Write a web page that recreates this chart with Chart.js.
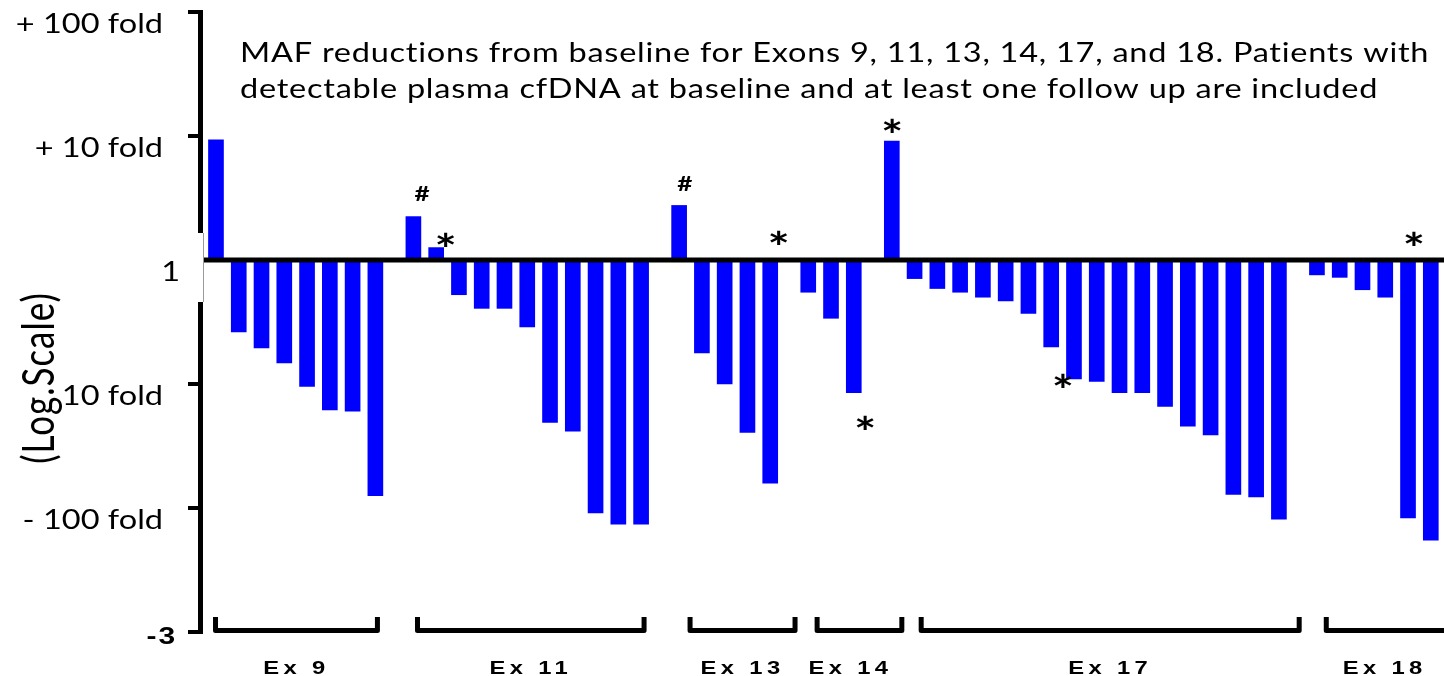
<!DOCTYPE html>
<html>
<head>
<meta charset="utf-8">
<script src="https://cdn.jsdelivr.net/npm/chart.js@4.4.1/dist/chart.umd.min.js"></script>
<style>
  html, body { margin: 0; padding: 0; background: #ffffff; overflow: hidden; }
  canvas { display: block; }
</style>
</head>
<body>
<canvas id="maf" width="1444" height="676"></canvas>
<script>
// Change in mutant allele fraction from baseline, log10 units (1 = 10-fold rise, -1 = 10-fold drop)
const exonNames = ['Ex 9', 'Ex 11', 'Ex 13', 'Ex 14', 'Ex 17', 'Ex 18'];
const ex9  = [0.97, -0.58, -0.71, -0.83, -1.02, -1.21, -1.22, -1.90];
const ex11 = [0.35, 0.10, -0.28, -0.39, -0.39, -0.54, -1.31, -1.38, -2.04, -2.13, -2.13];
const ex13 = [0.44, -0.75, -1.00, -1.39, -1.80];
const ex14 = [-0.26, -0.47, -1.07, 0.96];
const ex17 = [-0.15, -0.23, -0.26, -0.30, -0.33, -0.43, -0.70, -0.96, -0.98, -1.07, -1.07,
              -1.18, -1.34, -1.41, -1.89, -1.91, -2.09];
const ex18 = [-0.12, -0.14, -0.24, -0.30, -2.08, -2.26];

const yTickValues = [2, 1, 0, -1, -2, -3];
const yTickLabels = ['+ 100 fold', '+ 10 fold', '1', '10 fold', '- 100 fold', '-3'];
const yAxisTitle = '(Log.Scale)';
const titleLines = [
  'MAF reductions from baseline for Exons 9, 11, 13, 14, 17, and 18. Patients with',
  'detectable plasma cfDNA at baseline and at least one follow up are included'
];
// footnote symbols: [exon, bar within exon, symbol]
const marks = [
  ['Ex 11', 0, '#'], ['Ex 11', 1, '*'], ['Ex 13', 0, '#'], ['Ex 13', 4, '*'],
  ['Ex 14', 2, '*'], ['Ex 14', 3, '*'], ['Ex 17', 7, '*'], ['Ex 18', 4, '*']
];

// ---------- layout ----------
const groups = [ex9, ex11, ex13, ex14, ex17, ex18];
const WIDE_GAP = 0.67;                        // extra spacing (in bar slots) at breaks
const breaksBefore = new Set([8, 19, 24, 27, 45]); // running bar numbers that follow a break
const SX = 1.25;                              // horizontal stretch of lettering
const TEXT_FONT = 'Lato, "Open Sans", sans-serif';
const LABEL_FONT = 'bold 19px "Liberation Sans", Arial, sans-serif';
// bracket ends relative to first / last bar of each exon (bar slots)
const bracketPad = [[-0.13, 0.2], [0.07, 0.24], [0.37, 1.2], [0.28, 0.55], [0.18, 1.0], [0.3, 1.0]];
const labelNudge = [0, 0, 0, -9, 0, -4];
// where each footnote symbol sits: anchor ('tip' of bar or 'base' line), dx, dy in px
const markPlace = [
  ['tip', 8.5, -23], ['tip', 9.5, -8], ['tip', 5.5, -22], ['base', 8.5, -23],
  ['tip', 11.5, 30], ['tip', 0.5, -15], ['tip', -11, 1], ['base', 6, -22]
];

const points = [];
const groupSlots = [];
let slot = 0, n = 0;
groups.forEach((vals) => {
  const s = [];
  vals.forEach((v) => {
    if (n > 0) slot += 1 + (breaksBefore.has(n) ? WIDE_GAP : 0);
    points.push({ x: slot, y: v });
    s.push(slot);
    n++;
  });
  groupSlots.push(s);
});

function drawStretched(ctx, text, x, y, align, font, spacing) {
  ctx.save();
  ctx.translate(x, y);
  ctx.scale(SX, 1);
  ctx.font = font;
  ctx.textAlign = align;
  ctx.textBaseline = 'alphabetic';
  if (spacing) ctx.letterSpacing = spacing + 'px';
  ctx.fillStyle = '#000';
  ctx.fillText(text, 0, 0);
  ctx.restore();
}

function drawGlyphCentered(ctx, sym, cx, cy, font) {
  ctx.save();
  ctx.font = font;
  ctx.textAlign = 'left';
  ctx.textBaseline = 'alphabetic';
  const m = ctx.measureText(sym);
  const l = m.actualBoundingBoxLeft, r = m.actualBoundingBoxRight;
  const a = m.actualBoundingBoxAscent, d = m.actualBoundingBoxDescent;
  ctx.translate(cx, cy);
  ctx.scale(SX, 1);
  ctx.fillStyle = '#000';
  ctx.fillText(sym, -(r - l) / 2, (a - d) / 2);
  ctx.restore();
}

const decorations = {
  id: 'decorations',
  afterDatasetsDraw(chart) {
    const ctx = chart.ctx;
    const xs = chart.scales.x, ys = chart.scales.y;
    const area = chart.chartArea;
    const y0 = ys.getPixelForValue(0);

    ctx.save();
    // baseline at 1 (no change)
    ctx.strokeStyle = '#000';
    ctx.lineWidth = 5;
    ctx.beginPath();
    ctx.moveTo(area.left, y0);
    ctx.lineTo(area.right, y0);
    ctx.stroke();

    // vertical axis, interrupted around the baseline
    const axX = area.left - 2.5;
    const topY = ys.getPixelForValue(2) - 2;
    const botY = ys.getPixelForValue(-3) + 2;
    ctx.beginPath();
    ctx.moveTo(axX, topY); ctx.lineTo(axX, y0 - 27);
    ctx.moveTo(axX, y0 + 42); ctx.lineTo(axX, botY);
    ctx.stroke();
    ctx.strokeStyle = '#9a9a9a';
    ctx.lineWidth = 1;
    ctx.beginPath();
    ctx.moveTo(area.left + 0.5, y0 - 27); ctx.lineTo(area.left + 0.5, y0 + 42);
    ctx.stroke();

    // tick marks and labels
    ctx.strokeStyle = '#000';
    ctx.lineWidth = 4;
    yTickValues.forEach((v, i) => {
      const py = ys.getPixelForValue(v);
      if (v !== 0) {
        ctx.beginPath();
        ctx.moveTo(axX - 12.5, py); ctx.lineTo(axX, py);
        ctx.stroke();
      }
      if (v === -3) {
        drawStretched(ctx, yTickLabels[i], 177, py + 12, 'right', 'bold 24px "Liberation Sans", Arial, sans-serif', 1.5);
      } else {
        const right = v === 0 ? 180 : 163;
        drawStretched(ctx, yTickLabels[i], right, py + 21, 'right', '26px ' + TEXT_FONT);
      }
    });

    // rotated axis title
    ctx.save();
    ctx.translate(40, 378);
    ctx.scale(SX, 1);
    ctx.rotate(-Math.PI / 2);
    ctx.font = '35px ' + TEXT_FONT;
    ctx.letterSpacing = '1px';
    ctx.textAlign = 'center';
    ctx.textBaseline = 'middle';
    ctx.fillStyle = '#000';
    ctx.fillText(yAxisTitle, 0, 0);
    ctx.restore();

    // exon brackets and names
    ctx.lineWidth = 5;
    ctx.lineJoin = 'round';
    ctx.lineCap = 'butt';
    exonNames.forEach((name, g) => {
      const s = groupSlots[g];
      const x1 = xs.getPixelForValue(s[0] + bracketPad[g][0]) + 2.5;
      const x2 = xs.getPixelForValue(s[s.length - 1] + bracketPad[g][1]) - 2.5;
      ctx.beginPath();
      ctx.moveTo(x1, 617);
      ctx.lineTo(x1, 630.5);
      ctx.lineTo(x2, 630.5);
      ctx.lineTo(x2, 617);
      ctx.stroke();
      drawStretched(ctx, name, (x1 + x2) / 2 + labelNudge[g], 674, 'center', LABEL_FONT, 3.5);
    });

    // title text
    drawStretched(ctx, titleLines[0], 240, 62, 'left', '26px ' + TEXT_FONT, 0.6);
    drawStretched(ctx, titleLines[1], 240, 98, 'left', '26px ' + TEXT_FONT, 0.6);

    // footnote symbols
    marks.forEach(([exon, k, sym], i) => {
      const g = exonNames.indexOf(exon);
      const v = groups[g][k];
      const [anchor, dx, dy] = markPlace[i];
      const px = xs.getPixelForValue(groupSlots[g][k]) + dx;
      const py = (anchor === 'tip' ? ys.getPixelForValue(v) : y0) + dy;
      const font = sym === '#' ? 'bold 21px ' + TEXT_FONT : 'bold 42px ' + TEXT_FONT;
      drawGlyphCentered(ctx, sym, px, py, font);
    });
    ctx.restore();
  }
};

new Chart(document.getElementById('maf'), {
  type: 'bar',
  data: {
    datasets: [{
      data: points,
      backgroundColor: '#0000ff',
      borderWidth: 0,
      barThickness: 15
    }]
  },
  options: {
    responsive: false,
    animation: false,
    devicePixelRatio: 1,
    layout: { padding: { left: 203, right: 0, top: 12, bottom: 44 } },
    plugins: { legend: { display: false }, tooltip: { enabled: false }, title: { display: false } },
    scales: {
      x: { type: 'linear', min: -0.57, max: 53.93, offset: false, display: false },
      y: { type: 'linear', min: -3, max: 2, display: false }
    }
  },
  plugins: [decorations]
});
</script>
</body>
</html>
